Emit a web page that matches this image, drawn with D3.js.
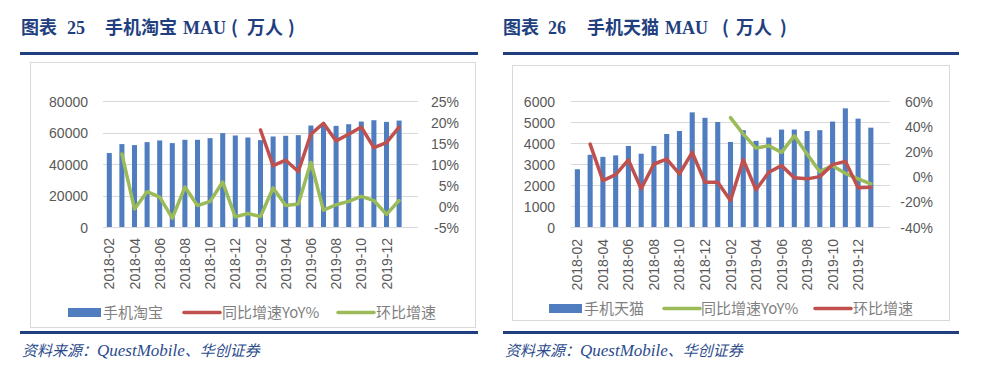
<!DOCTYPE html>
<html>
<head>
<meta charset="utf-8">
<script src="https://cdn.jsdelivr.net/npm/d3@7"></script>
<style>
  body { margin: 0; background: #fff; }
  svg { display: block; }
</style>
</head>
<body>
<div id="chart"></div>
<script>
// months shown on the category axis (one slot is left empty at the end, as in the source)
const months = ["2018-02","2018-03","2018-04","2018-05","2018-06","2018-07","2018-08","2018-09",
  "2018-10","2018-11","2018-12","2019-01","2019-02","2019-03","2019-04","2019-05","2019-06",
  "2019-07","2019-08","2019-09","2019-10","2019-11","2019-12","2020-01"]

// 手机淘宝 MAU (万人) and growth rates (%)
const taobaoMau = [46950, 52630, 52000, 53900, 54950, 53260, 55370, 55370, 56420, 59580, 58100, 56840,
  55160, 57470, 57900, 58320, 64420, 64800, 64210, 65260, 66950, 67790, 66740, 67580]
const taobaoYoy = [null, null, null, null, null, null, null, null, null, null, null, null,
  18.1, 9.6, 10.9, 8.2, 17.1, 19.7, 15.5, 17.1, 18.8, 13.9, 15.1, 18.8]
const taobaoMom = [null, 12.4, -0.7, 3.4, 2.1, -2.9, 4.5, 0.1, 1.1, 5.7, -2.6, -1.8,
  -2.5, 4.3, 0.1, 0.5, 10.4, -1.0, 0.3, 1.1, 2.3, 1.3, -2.0, 1.3]

// 手机天猫 MAU (万人) and growth rates (%)
const tmallMau = [2750, 3440, 3340, 3410, 3860, 3490, 3860, 4430, 4570, 5460, 5200, 5000,
  4050, 4610, 4100, 4260, 4640, 4640, 4570, 4610, 5020, 5650, 5160, 4730]
const tmallYoy = [null, null, null, null, null, null, null, null, null, null, null, null,
  46.8, 33.7, 22.6, 24.5, 19.2, 32.4, 17.9, 3.9, 8.7, 2.6, -1.8, -5.8]
const tmallMom = [null, 25.8, -3.2, 1.6, 13.2, -9.7, 10.0, 13.9, 2.1, 19.2, -4.5, -4.5,
  -18.9, 13.4, -10.5, 3.4, 8.7, -1.0, -1.8, 0.0, 9.5, 12.1, -8.9, -8.4]

const taobaoLeftTicks = [0, 20000, 40000, 60000, 80000]
const taobaoRightTicks = [-5, 0, 5, 10, 15, 20, 25]
const tmallLeftTicks = [0, 1000, 2000, 3000, 4000, 5000, 6000]
const tmallRightTicks = [-40, -20, 0, 20, 40, 60]

const BLUE = "#4f7dbf", RED = "#c0504d", GREEN = "#9bbb59", NAVY = "#1f3f7f"
const CJK = "'Noto Sans CJK SC', sans-serif"
const SERIF = "'Liberation Serif', 'DejaVu Serif', serif"
const LATIN = "'Liberation Sans', Arial, sans-serif"

const svg = d3.select("#chart").append("svg")
  .attr("width", 992)
  .attr("height", 376)

function panel(cfg) {
  const g = svg.append("g")

  // title
  const title = g.append("text")
    .attr("y", 34)
    .attr("fill", NAVY)
    .attr("font-weight", "bold")
    .attr("font-size", 18)
  cfg.title.forEach(function(t) {
    title.append("tspan")
      .attr("x", t.x)
      .attr("font-family", t.serif ? SERIF : CJK)
      .text(t.s)
  })

  g.append("rect")
    .attr("x", cfg.rule[0]).attr("y", 52)
    .attr("width", cfg.rule[1] - cfg.rule[0]).attr("height", 3)
    .attr("fill", NAVY)
  g.append("rect")
    .attr("x", cfg.rule[0]).attr("y", 331)
    .attr("width", cfg.rule[1] - cfg.rule[0]).attr("height", 3)
    .attr("fill", NAVY)

  // chart frame
  g.append("rect")
    .attr("x", cfg.box.x + 0.5).attr("y", cfg.box.y + 0.5)
    .attr("width", cfg.box.w).attr("height", cfg.box.h)
    .attr("fill", "#fff")
    .attr("stroke", "#d9d9d9")

  const x = d3.scaleBand()
    .domain(months.concat([""]))
    .range(cfg.xr)
    .paddingInner(0.6)
    .paddingOuter(0.3)

  const y = d3.scaleLinear().domain(cfg.yDomain).range(cfg.yr)
  const y2 = d3.scaleLinear().domain(cfg.y2Domain).range(cfg.yr)

  // gridlines
  g.append("g")
    .selectAll("line")
    .data(cfg.leftTicks)
    .join("line")
    .attr("x1", cfg.xr[0]).attr("x2", cfg.xr[1])
    .attr("y1", d => Math.round(y(d)) + 0.5)
    .attr("y2", d => Math.round(y(d)) + 0.5)
    .attr("stroke", "#d9d9d9")

  const yAxis = g.append("g")
    .attr("transform", `translate(${cfg.leftLabelX},0)`)
    .call(d3.axisLeft(y).tickValues(cfg.leftTicks).tickSize(0).tickPadding(0).tickFormat(d3.format("d")))
  const y2Axis = g.append("g")
    .attr("transform", `translate(${cfg.rightLabelX},0)`)
    .call(d3.axisLeft(y2).tickValues(cfg.rightTicks).tickSize(0).tickPadding(0).tickFormat(d => d + "%"))
  ;[yAxis, y2Axis].forEach(function(a) {
    a.select(".domain").remove()
    a.selectAll("text")
      .attr("fill", "#595959")
      .attr("font-size", 14)
      .attr("font-family", LATIN)
      .attr("dy", "0.36em")
  })

  // category labels, every other month, rotated
  g.append("g")
    .selectAll("text")
    .data(months.filter((d, i) => i % 2 === 0))
    .join("text")
    .attr("transform", d => `translate(${x(d) + x.bandwidth() / 2 + 5},${cfg.xLabelTop}) rotate(-90)`)
    .attr("text-anchor", "end")
    .attr("fill", "#595959")
    .attr("font-size", 14)
    .attr("font-family", LATIN)
    .text(d => d)

  // bars
  g.append("g")
    .selectAll("rect")
    .data(cfg.bars)
    .join("rect")
    .attr("x", (d, i) => x(months[i]))
    .attr("width", x.bandwidth())
    .attr("y", d => y(d))
    .attr("height", d => y(0) - y(d))
    .attr("fill", BLUE)

  const line = d3.line()
    .defined(d => d[1] !== null)
    .x(d => x(d[0]) + x.bandwidth() / 2)
    .y(d => y2(d[1]))

  cfg.lines.forEach(function(s) {
    g.append("path")
      .datum(months.map((m, i) => [m, s.values[i]]))
      .attr("d", line)
      .attr("fill", "none")
      .attr("stroke", s.color)
      .attr("stroke-width", 3.5)
      .attr("stroke-linejoin", "round")
      .attr("stroke-linecap", "round")
  })

  // legend
  const lg = g.append("g")
  lg.append("rect")
    .attr("x", cfg.legend[0].x).attr("y", cfg.legendY - 4)
    .attr("width", 33).attr("height", 9)
    .attr("fill", BLUE)
  cfg.lines.forEach(function(s, i) {
    const lx = cfg.legend[i + 1].x
    lg.append("line")
      .attr("x1", lx).attr("x2", lx + 36)
      .attr("y1", cfg.legendY + 0.5).attr("y2", cfg.legendY + 0.5)
      .attr("stroke", s.color)
      .attr("stroke-width", 3.5)
      .attr("stroke-linecap", "round")
  })
  cfg.legend.forEach(function(l) {
    lg.append("text")
      .attr("x", l.tx)
      .attr("y", cfg.legendY + 6)
      .attr("fill", "#7f7f7f")
      .attr("font-size", 15)
      .attr("font-family", CJK)
      .text(l.label)
  })

  // source note
  const src = g.append("text")
    .attr("x", cfg.rule[0] + 2)
    .attr("y", 356)
    .attr("fill", "#2b4c8c")
    .attr("font-size", 15)
    .attr("font-style", "italic")
  src.append("tspan").attr("font-family", CJK).text("资料来源：")
  src.append("tspan").attr("font-family", SERIF).attr("font-size", 17).text("QuestMobile")
  src.append("tspan").attr("font-family", CJK).text("、华创证券")
}

panel({
  title: [{x: 21, s: "图表"}, {x: 67, s: "25", serif: true}, {x: 105, s: "手机淘宝"},
    {x: 183, s: "MAU", serif: true}, {x: 231, s: "("}, {x: 247, s: "万人"}, {x: 288, s: ")"}],
  rule: [20, 478],
  box: {x: 30, y: 62, w: 445, h: 265},
  xr: [103, 418], yr: [227, 101],
  yDomain: [0, 80000], y2Domain: [-5, 25],
  leftTicks: taobaoLeftTicks, rightTicks: taobaoRightTicks,
  leftLabelX: 88, rightLabelX: 459, xLabelTop: 238,
  bars: taobaoMau,
  lines: [{values: taobaoYoy, color: RED}, {values: taobaoMom, color: GREEN}],
  legendY: 312,
  legend: [{x: 68, tx: 103, label: "手机淘宝"}, {x: 184, tx: 222, label: "同比增速YoY%"}, {x: 338, tx: 376, label: "环比增速"}]
})

panel({
  title: [{x: 503, s: "图表"}, {x: 548, s: "26", serif: true}, {x: 587, s: "手机天猫"},
    {x: 665, s: "MAU", serif: true}, {x: 722, s: "("}, {x: 736, s: "万人"}, {x: 780, s: ")"}],
  rule: [503, 959],
  box: {x: 512, y: 65, w: 437, h: 255},
  xr: [571, 890], yr: [227, 101],
  yDomain: [0, 6000], y2Domain: [-40, 60],
  leftTicks: tmallLeftTicks, rightTicks: tmallRightTicks,
  leftLabelX: 555, rightLabelX: 933, xLabelTop: 239,
  bars: tmallMau,
  lines: [{values: tmallYoy, color: GREEN}, {values: tmallMom, color: RED}],
  legendY: 308,
  legend: [{x: 549, tx: 584, label: "手机天猫"}, {x: 664, tx: 701, label: "同比增速YoY%"}, {x: 815, tx: 853, label: "环比增速"}]
})
</script>
</body>
</html>
